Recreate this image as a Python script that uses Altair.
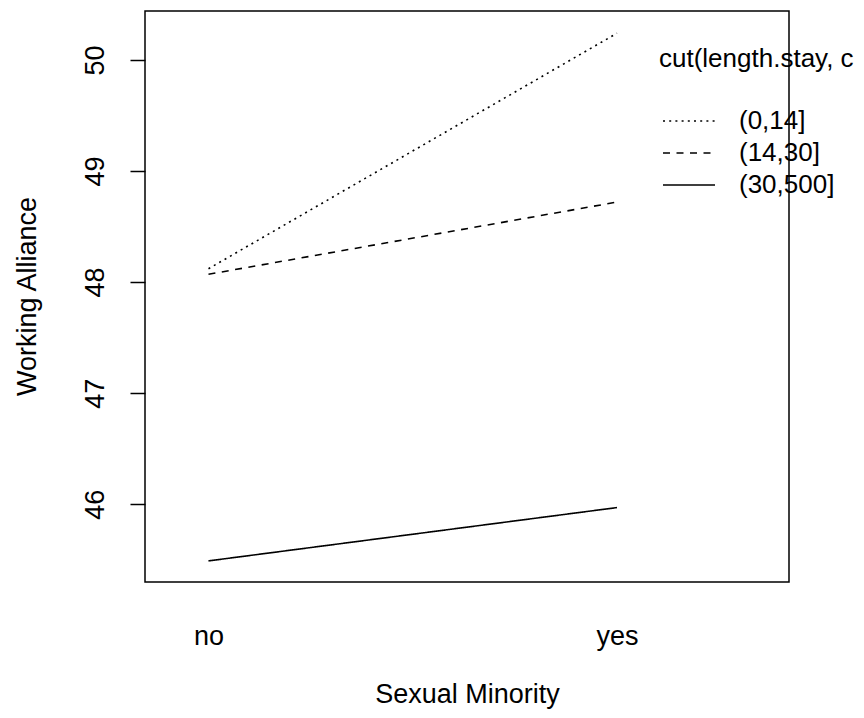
import altair as alt
import pandas as pd

FONT = "Liberation Sans"

sexual_minority = ["no", "yes"]
sm_pos = [1, 2]
stay_groups = ["(0,14]", "(14,30]", "(30,500]"]
alliance_no = [48.12, 48.07, 45.49]
alliance_yes = [50.24, 48.72, 45.97]
y_ticks = [46, 47, 48, 49, 50]
legend_title = "cut(length.stay, c"
x_title = "Sexual Minority"
y_title = "Working Alliance"

rows = []
for g, a, b in zip(stay_groups, alliance_no, alliance_yes):
    rows.append({"group": g, "sm": sexual_minority[0], "x": sm_pos[0], "wa": a})
    rows.append({"group": g, "sm": sexual_minority[1], "x": sm_pos[1], "wa": b})
df = pd.DataFrame(rows)
legend_df = pd.DataFrame({"group": stay_groups})
title_df = pd.DataFrame({"t": [legend_title]})

dash_scale = alt.Scale(domain=stay_groups, range=[[2, 4.2], [7, 6.5], [1, 0]])
label_expr = (
    f"datum.value == {sm_pos[0]} ? '{sexual_minority[0]}' : "
    f"(datum.value == {sm_pos[1]} ? '{sexual_minority[1]}' : '')"
)

lines = alt.Chart(df).mark_line(color="black", strokeWidth=1.6).encode(
    x=alt.X(
        "x:Q",
        scale=alt.Scale(domain=[0.8446, 2.421], nice=False, zero=False),
        axis=alt.Axis(
            values=sm_pos, labelExpr=label_expr, title=x_title,
            ticks=False, tickSize=0, domain=False, grid=False,
            labelFont=FONT, labelFontSize=27, labelColor="black",
            labelPadding=62, labelBaseline="alphabetic", labelFlush=False,
            labelOverlap=False,
            titleFont=FONT, titleFontSize=27, titleFontWeight="normal",
            titleColor="black", titleBaseline="alphabetic",
            titleX=322, titleY=120,
        ),
    ),
    y=alt.Y(
        "wa:Q",
        scale=alt.Scale(domain=[45.30, 50.44], nice=False, zero=False),
        axis=alt.Axis(
            values=y_ticks, title=y_title, format="d",
            tickSize=15, tickWidth=1.5, tickColor="black",
            domain=False, grid=False,
            labelAngle=270, labelAlign="center", labelBaseline="alphabetic",
            labelPadding=27, labelFont=FONT, labelFontSize=27,
            labelColor="black", labelOverlap=False,
            titleAngle=270, titleBaseline="alphabetic", titleAlign="center",
            titleX=-110, titleY=285, titleFont=FONT, titleFontSize=27,
            titleFontWeight="normal", titleColor="black",
        ),
    ),
    strokeDash=alt.StrokeDash("group:N", scale=dash_scale, legend=None),
    detail="group:N",
)

row_scale = alt.Scale(type="point", domain=stay_groups, range=[110, 174], padding=0)

leg_rules = alt.Chart(legend_df).mark_rule(color="black", strokeWidth=1.6).encode(
    x=alt.value(518),
    x2=alt.value(570),
    y=alt.Y("group:N", scale=row_scale, axis=None),
    strokeDash=alt.StrokeDash("group:N", scale=dash_scale, legend=None),
)

leg_text = alt.Chart(legend_df).mark_text(
    align="left", baseline="middle", fontSize=26, font=FONT, color="black"
).encode(
    x=alt.value(594),
    y=alt.Y("group:N", scale=row_scale, axis=None),
    text="group:N",
)

leg_title = alt.Chart(title_df).mark_text(
    align="left", baseline="middle", fontSize=26, font=FONT, color="black"
).encode(
    x=alt.value(514),
    y=alt.value(48),
    text="t:N",
)

chart = (
    alt.layer(lines, leg_rules, leg_text, leg_title)
    .resolve_scale(y="independent")
    .properties(
        width=644,
        height=571,
        autosize=alt.AutoSizeParams(type="none"),
        padding={"left": 137, "top": 3, "right": 67, "bottom": 128},
        background="white",
    )
    .configure_view(stroke="black", strokeWidth=1.5)
)

chart.save("out.html", embed_options={"renderer": "svg", "actions": False})
